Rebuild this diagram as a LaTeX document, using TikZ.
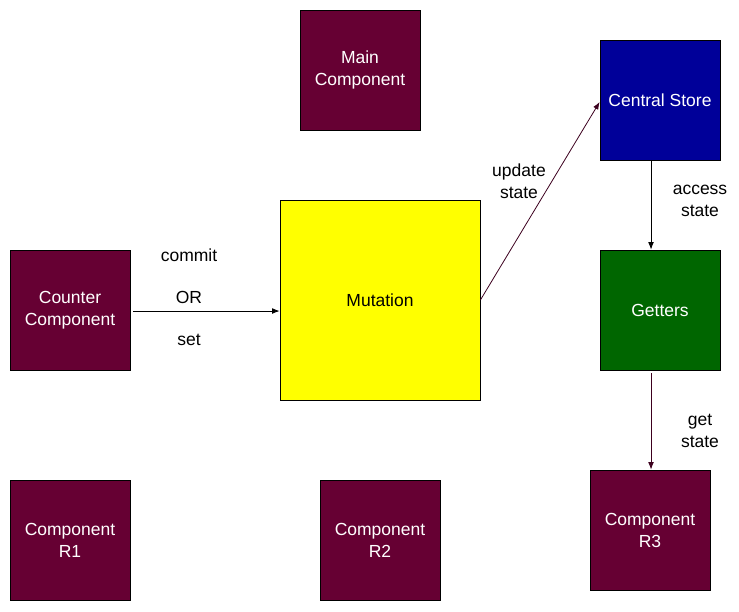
\documentclass[tikz,border=0pt]{standalone}
\usepackage{fontspec}
\setmainfont{Liberation Sans}
\usetikzlibrary{arrows.meta,positioning,calc}
\definecolor{flowmaroon}{RGB}{102,0,51}
\definecolor{flowblue}{RGB}{0,0,153}
\definecolor{flowgreen}{RGB}{0,102,0}
\definecolor{flowyellow}{RGB}{255,255,0}
\definecolor{flowline}{RGB}{60,0,30}
\tikzset{
  flow box/.style={
    draw=black,
    line width=0.8pt,
    minimum width=120pt,
    minimum height=120pt,
    inner sep=2pt,
    align=center,
    text=white,
    font=\fontsize{17.5}{22}\selectfont,
  },
  flow label/.style={
    align=center,
    text=black,
    font=\fontsize{17.5}{22}\selectfont,
  },
  flow arrow/.style={
    -{Latex[length=2.6mm,width=2mm]},
    line width=0.8pt,
    draw=black,
  },
}
\begin{document}
\begin{tikzpicture}[x=1pt,y=-1pt]
  \useasboundingbox (0,0) rectangle (739,611);
  \node[flow box, fill=flowmaroon] (main) at (360,70) {Main\\Component};
  \node[flow box, fill=flowblue] (store) at (660,100) {Central Store};
  \node[flow box, fill=flowgreen] (getters) at (660,310) {Getters};
  \node[flow box, fill=flowmaroon] (counter) at (70,310) {Counter\\Component};
  \node[flow box, fill=flowyellow, text=black, minimum width=200pt, minimum height=200pt] (mutation) at (380,300) {Mutation};
  \node[flow box, fill=flowmaroon] (rone) at (70,540) {Component\\R1};
  \node[flow box, fill=flowmaroon] (rtwo) at (380,540) {Component\\R2};
  \node[flow box, fill=flowmaroon] (rthree) at (650,530) {Component\\R3};

  \node[flow label] (commit) at (189,255) {commit};
  \node[flow label] (or) at (189,297) {OR};
  \node[flow label] (set) at (189,340) {set};
  \node[flow label] (update) at (519,181) {update\\state};
  \node[flow label] (access) at (700,201) {access\\state};
  \node[flow label] (get) at (700,431) {get\\state};

  \draw[flow arrow] ($(counter.east)+(3,1)$) -- ($(mutation.west)+(0,11)$);
  \draw[flow arrow, draw=flowline] (mutation.east) -- ($(store.west)+(0,2)$);
  \draw[flow arrow] ($(store.south)+(-9,0)$) -- ($(getters.north)+(-9,0)$);
  \draw[flow arrow, draw=flowline] ($(getters.south)+(-9,3)$) -- ($(rthree.north)+(1,0)$);
\end{tikzpicture}
\end{document}
